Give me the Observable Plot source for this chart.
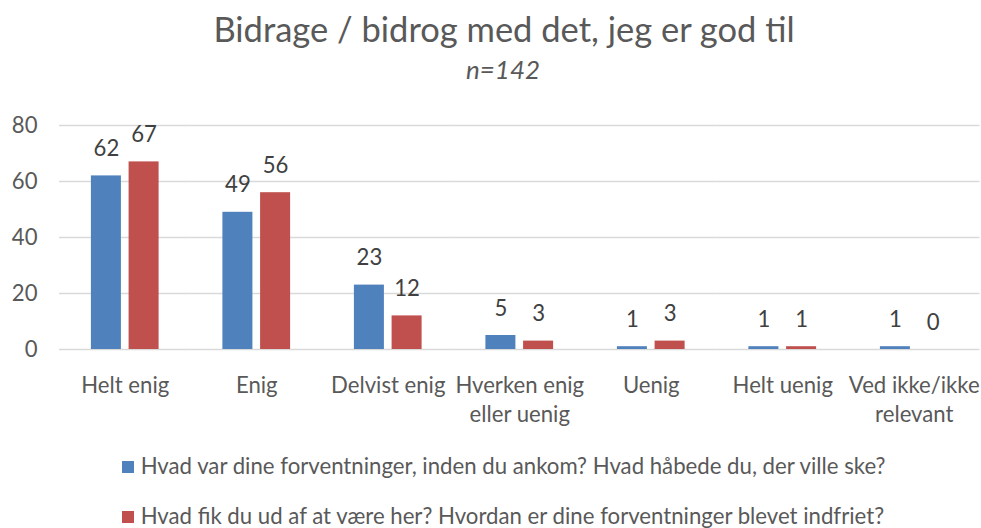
<!DOCTYPE html>
<html><head><meta charset="utf-8">
<script src="https://cdn.jsdelivr.net/npm/d3@7"></script>
<script src="https://cdn.jsdelivr.net/npm/@observablehq/plot@0.6"></script>
<style>
html,body{margin:0;padding:0;background:#fff;}
body{position:relative;width:981px;height:528px;overflow:hidden;font-family:Lato,"Open Sans",sans-serif;color:#595959;}
.abs{position:absolute;white-space:nowrap;}
#chart{position:absolute;left:0;top:100px;}
.sw{display:inline-block;width:12.6px;height:12.6px;position:absolute;}
</style></head>
<body>
<div id="title" class="abs"></div>
<div id="subtitle" class="abs"></div>
<div id="chart"></div>
<div id="legend"></div>
<script>
const FONT = "Lato";
const title = "Bidrage / bidrog med det, jeg er god til";
const subtitle = "n=142";
const categories = ["Helt enig", "Enig", "Delvist enig", "Hverken enig\neller uenig", "Uenig", "Helt uenig", "Ved ikke/ikke\nrelevant"];
const seriesNames = [
  "Hvad var dine forventninger, inden du ankom? Hvad håbede du, der ville ske?",
  "Hvad fik du ud af at være her? Hvordan er dine forventninger blevet indfriet?"
];
const expected = [62, 49, 23, 5, 1, 1, 1];
const received = [67, 56, 12, 3, 3, 1, 0];
const yTicks = [0, 20, 40, 60, 80];
const colors = ["#4F81BD", "#C0504D"];

const data = categories.flatMap((c, i) => [
  {cat: c, s: seriesNames[0], v: expected[i]},
  {cat: c, s: seriesNames[1], v: received[i]}
]);

// fit font sizes to reference text widths
const ctx = document.createElement("canvas").getContext("2d");
function fit(text, target, style = "") {
  ctx.font = `${style} 100px ${FONT}`;
  return 100 * target / ctx.measureText(text).width;
}
const tickFs = fit("Helt enig", 88);
const titleFs = fit(title, 582);
const subFs = fit(subtitle, 74, "italic");
const legFs = fit(seriesNames[0], 747);
const ASC = 0.887; // baseline offset for line-height 1 (Lato)

function place(el, text, fs, centerX, baseline, style) {
  el.textContent = text;
  el.style.fontSize = fs + "px";
  el.style.lineHeight = fs + "px";
  if (style) el.style.fontStyle = style;
  el.style.top = (baseline - ASC * fs) + "px";
  el.style.left = "0px";
  const w = el.getBoundingClientRect().width;
  el.style.left = (centerX - w / 2) + "px";
}
place(document.getElementById("title"), title, titleFs, 504, 43);
place(document.getElementById("subtitle"), subtitle, subFs, 503, 80, "italic");

const chart = Plot.plot({
  width: 981,
  height: 330,
  marginLeft: 59,
  marginRight: 1.5,
  marginTop: 25,
  marginBottom: 81,
  style: {fontFamily: FONT, fontSize: tickFs + "px", color: "#595959", background: "transparent"},
  fx: {domain: categories, paddingInner: 0, paddingOuter: 0, round: false, axis: null, label: null},
  x: {domain: seriesNames, paddingInner: 0.204, paddingOuter: 0.846, round: false, axis: null},
  y: {domain: [0, 80], ticks: yTicks, tickSize: 0, tickPadding: 22, label: null},
  color: {domain: seriesNames, range: colors},
  marks: [
    Plot.ruleY(yTicks, {stroke: "#d9d9d9", strokeWidth: 1.3}),
    Plot.barY(data, {fx: "cat", x: "s", y: "v", fill: "s"}),
    Plot.text(data, {fx: "cat", x: "s", y: "v", text: d => String(d.v), dy: -20, lineAnchor: "bottom", fill: "#404040", fontSize: tickFs}),
    Plot.text(categories, {fx: d => d, text: d => d, frameAnchor: "bottom", lineAnchor: "top", dy: 39 - 0.71 * tickFs, lineHeight: 29 / tickFs, fill: "#595959", fontSize: tickFs})
  ]
});
document.getElementById("chart").appendChild(chart);

// legend
const legend = document.getElementById("legend");
const legBaselines = [475, 525];
seriesNames.forEach((name, i) => {
  const sw = document.createElement("span");
  sw.className = "sw";
  sw.style.background = colors[i];
  sw.style.left = "121.7px";
  sw.style.top = (legBaselines[i] - 14.3) + "px";
  legend.appendChild(sw);
  const t = document.createElement("div");
  t.className = "abs";
  t.textContent = name;
  t.style.fontSize = legFs + "px";
  t.style.lineHeight = legFs + "px";
  t.style.left = "140.7px";
  t.style.top = (legBaselines[i] - ASC * legFs) + "px";
  legend.appendChild(t);
});
</script>
</body></html>
